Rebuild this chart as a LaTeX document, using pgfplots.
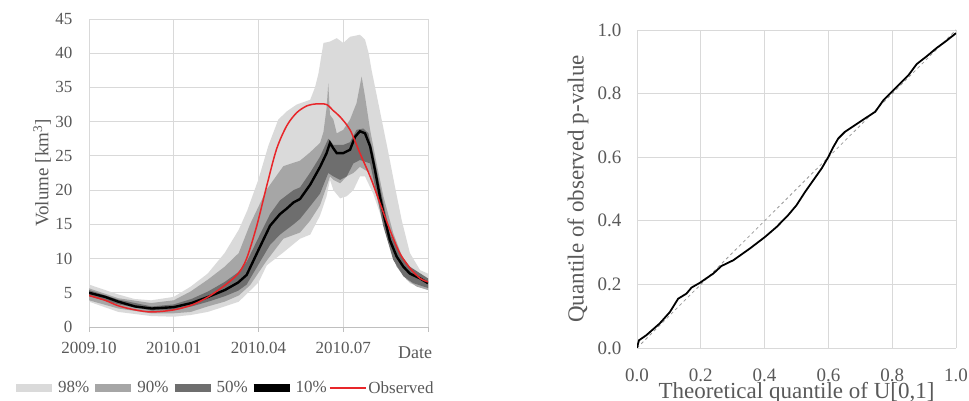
\documentclass[border=0pt]{standalone}
\usepackage{fontspec}
\setmainfont{Liberation Serif}
\usepackage{pgfplots}
\pgfplotsset{compat=1.18}
\definecolor{txt}{HTML}{595959}
\definecolor{gridc}{HTML}{D9D9D9}
\definecolor{axc}{HTML}{BFBFBF}
\definecolor{c98}{HTML}{DADADA}
\definecolor{c90}{HTML}{A6A6A6}
\definecolor{c50}{HTML}{6E6E6E}
\definecolor{obs}{HTML}{E8262A}
\begin{document}
\begin{tikzpicture}
\path[use as bounding box] (0pt,0pt) rectangle (969pt,401pt);
% ---------------- left chart ----------------
\begin{axis}[
  at={(89pt,74pt)}, anchor=south west, scale only axis,
  width=339pt, height=308pt,
  xmin=0, xmax=12, ymin=0, ymax=45,
  xtick={0,3,6,9,12},
  xticklabels={2009.10,2010.01,2010.04,2010.07,},
  ytick={0,5,...,45},
  grid=major, major grid style={gridc, line width=0.8pt},
  separate axis lines,
  axis x line*=bottom, axis y line*=left,
  x axis line style={axc, line width=0.8pt, -},
  y axis line style={draw=none},
  xtick style={axc, line width=0.8pt}, ytick style={draw=none},
  tick align=outside, major tick length=5pt,
  /pgf/number format/assume math mode=true,
  ticklabel style={font=\fontsize{17}{17}\selectfont, text=txt},
  yticklabel style={xshift=-8pt},
  xticklabel style={yshift=-7pt},
  ylabel={Volume [km\textsuperscript{3}]},
  ylabel style={font=\fontsize{19}{19}\selectfont, text=txt, at={(axis description cs:-0.138,0.5)}, anchor=center},
  xlabel={Date},
  xlabel style={font=\fontsize{18}{18}\selectfont, text=txt, at={(axis description cs:0.962,-0.085)}, anchor=center},
  legend style={at={(axis description cs:-0.227,-0.198)}, anchor=west, draw=none, fill=none,
    font=\fontsize{17}{17}\selectfont, text=txt, inner sep=0pt,
    /tikz/every even column/.append style={column sep=0pt}},
  legend columns=5,
  legend image code/.code={\draw[#1] (0pt,0pt) -- (36pt,0pt);},
]
\addlegendimage{c98, line width=8pt}
\addlegendentry{98\%}
\addlegendimage{c90, line width=8pt}
\addlegendentry{90\%}
\addlegendimage{c50, line width=8pt}
\addlegendentry{50\%}
\addlegendimage{black, line width=8pt}
\addlegendentry{10\%}
\addlegendimage{obs, line width=1.5pt}
\addlegendentry{Observed}
% 98% band
\addplot[fill=c98, draw=none, forget plot] coordinates {
(0,6.2)(0.5,5.5)(1.0,4.8)(1.6,4.1)(2.2,3.9)(3.0,4.4)(3.6,5.9)(4.2,7.8)(4.8,10.8)(5.3,14.2)(5.6,17)(6.0,21.6)(6.35,26.5)(6.7,30.3)(7.0,31.5)(7.35,32.5)(7.83,33.2)(8.0,35)(8.12,37)(8.3,41.5)(8.53,41.7)(8.77,42.2)(9.0,41.5)(9.24,42.4)(9.59,42.7)(9.77,42.0)(9.9,40)(10.0,37.6)(10.36,30.3)(10.6,25.4)(10.83,20.5)(11.07,15.6)(11.36,10.8)(11.72,8.3)(12,7.8)
(12,5.4)(11.36,6.4)(11.0,8.3)(10.65,11.7)(10.3,16.6)(10.06,19.5)(9.77,22)(9.59,22)(9.36,20)(9.12,19.1)(8.89,18.8)(8.65,20)(8.53,21.5)(8.41,19.1)(8.18,16.3)(7.83,13.5)(7.47,12.9)(6.88,10.9)(6.29,9.0)(6.0,6.5)(5.5,4.5)(5.3,3.7)(4.8,3.0)(4.2,2.2)(3.6,1.75)(3.0,1.5)(2.2,1.6)(1.04,2.2)(0,3.7)
} -- cycle;
% 90% band
\addplot[fill=c90, draw=none, forget plot] coordinates {
(0,5.65)(1.04,4.2)(2.2,3.5)(3.0,3.9)(3.6,5.2)(4.2,6.9)(4.8,8.8)(5.3,10.8)(5.7,15.0)(6.29,20.1)(6.88,23.5)(7.47,24.3)(7.82,25.5)(8.18,26.9)(8.3,28.5)(8.41,32)(8.47,35.6)(8.53,31)(8.65,30.3)(8.77,28.3)(9.0,28.8)(9.24,30.3)(9.47,32.7)(9.65,36.6)(9.77,33.7)(9.95,28.8)(10.18,23.9)(10.42,19.1)(10.77,13.7)(11.13,9.8)(11.6,7.8)(12,6.9)
(12,5.4)(11.6,5.9)(11.25,6.9)(10.89,8.8)(10.54,13.2)(10.18,19.1)(9.95,22.5)(9.59,23.4)(9.36,22.5)(9.12,22)(8.89,21)(8.65,21.5)(8.53,22)(8.41,20.5)(8.18,17.8)(7.82,15.5)(7.47,13.8)(6.88,12.9)(6.29,9.7)(5.7,6.1)(5.3,4.6)(4.8,3.7)(4.2,3.0)(3.6,2.2)(3.0,2.0)(2.2,2.0)(1.04,2.7)(0,3.9)
} -- cycle;
% 50% band
\addplot[fill=c50, draw=none, forget plot] coordinates {
(0,5.4)(1.04,4.0)(2.22,3.0)(3.0,3.3)(3.63,4.1)(4.22,5.2)(4.81,6.6)(5.28,8.0)(5.58,9.5)(6.05,13.5)(6.41,16.5)(6.76,18.5)(7.24,20)(7.47,20.4)(7.82,22.5)(8.18,24.9)(8.47,27.5)(8.53,27.3)(8.65,26.6)(9.0,26.6)(9.24,27)(9.47,28.8)(9.71,29.0)(9.89,28.3)(10.06,25.4)(10.3,20.5)(10.65,13.7)(11.0,10.8)(11.36,8.8)(12,7.1)
(12,5.7)(11.48,6.4)(11.13,7.4)(10.77,9.8)(10.42,14.7)(10.18,19.5)(9.95,23.9)(9.59,24.4)(9.36,23.9)(9.12,22)(8.89,21.5)(8.65,22)(8.47,22.5)(8.18,19.5)(7.82,17.6)(7.47,15.8)(7.24,15)(6.76,13.5)(6.41,12)(6.05,9.5)(5.58,6.2)(5.28,5.3)(4.81,4.5)(4.22,3.7)(3.63,3.0)(3.0,2.5)(2.22,2.4)(1.04,3.3)(0,4.5)
} -- cycle;
% 10% (median)
\addplot[black, line width=2.4pt, forget plot] coordinates {
(0,5.0)(0.57,4.4)(1.04,3.7)(1.63,3.0)(2.22,2.7)(3.0,2.9)(3.63,3.5)(4.22,4.4)(4.81,5.4)(5.28,6.5)(5.58,7.6)(6.05,11.7)(6.41,14.8)(6.76,16.5)(7.0,17.3)(7.24,18.2)(7.47,18.7)(7.83,20.8)(8.18,23.4)(8.41,25.4)(8.53,26.9)(8.65,26.1)(8.77,25.4)(9.0,25.4)(9.24,25.9)(9.42,27.8)(9.59,28.6)(9.77,28.3)(9.95,26.4)(10.12,23)(10.3,19)(10.48,15.6)(10.65,12.7)(10.89,10.3)(11.13,8.8)(11.36,7.8)(11.72,7.1)(12,6.4)
};
% observed
\addplot[obs, line width=1.5pt, smooth, forget plot] coordinates {
(0,4.6)(0.57,3.9)(1.04,3.1)(1.63,2.5)(2.22,2.2)(3.0,2.5)(3.63,3.2)(4.22,4.4)(4.81,6.1)(5.28,7.8)(5.58,10)(5.94,14.8)(6.29,20.6)(6.64,26)(7.0,29.4)(7.35,31.3)(7.71,32.3)(8.06,32.6)(8.41,32.5)(8.65,31.6)(8.89,30.7)(9.24,28.8)(9.59,25.4)(9.95,22)(10.3,18.1)(10.65,14.2)(11.0,10.8)(11.36,8.6)(11.72,7.1)(12,6.6)
};
\end{axis}
% ---------------- right chart ----------------
\begin{axis}[
  at={(637pt,53pt)}, anchor=south west, scale only axis,
  width=319pt, height=318pt,
  xmin=0, xmax=1, ymin=0, ymax=1,
  xtick={0,0.2,...,1.0}, ytick={0,0.2,...,1.0},
  grid=major, major grid style={gridc, line width=0.8pt},
  axis line style={draw=none}, tick style={draw=none},
  /pgf/number format/assume math mode=true,
  /pgf/number format/.cd, fixed, fixed zerofill, precision=1, /pgfplots/.cd,
  ticklabel style={font=\fontsize{19}{19}\selectfont, text=txt},
  yticklabel style={xshift=-12pt},
  xticklabel style={yshift=-17pt},
  xlabel={Theoretical quantile of U[0,1]},
  xlabel style={font=\fontsize{23}{23}\selectfont, text=txt, at={(axis description cs:0.5,-0.142)}, anchor=center},
  ylabel={Quantile of observed p-value},
  ylabel style={font=\fontsize{23}{23}\selectfont, text=txt, at={(axis description cs:-0.185,0.5)}, anchor=center},
]
\addplot[gray!80, dashed, line width=0.8pt] coordinates {(0,0)(1,1)};
\addplot[black, line width=1.8pt] coordinates {
(0,0)(0.006,0.024)(0.029,0.04)(0.071,0.077)(0.103,0.113)(0.129,0.155)(0.155,0.171)(0.171,0.19)(0.197,0.205)(0.239,0.234)(0.265,0.258)(0.302,0.276)(0.354,0.313)(0.401,0.349)(0.438,0.381)(0.474,0.418)(0.5,0.449)(0.527,0.491)(0.553,0.528)(0.579,0.565)(0.6,0.601)(0.616,0.633)(0.631,0.659)(0.652,0.68)(0.679,0.698)(0.715,0.722)(0.747,0.743)(0.773,0.78)(0.794,0.801)(0.825,0.832)(0.851,0.858)(0.877,0.893)(0.909,0.918)(0.94,0.944)(0.966,0.963)(1.0,0.99)
};
\end{axis}
\end{tikzpicture}
\end{document}
